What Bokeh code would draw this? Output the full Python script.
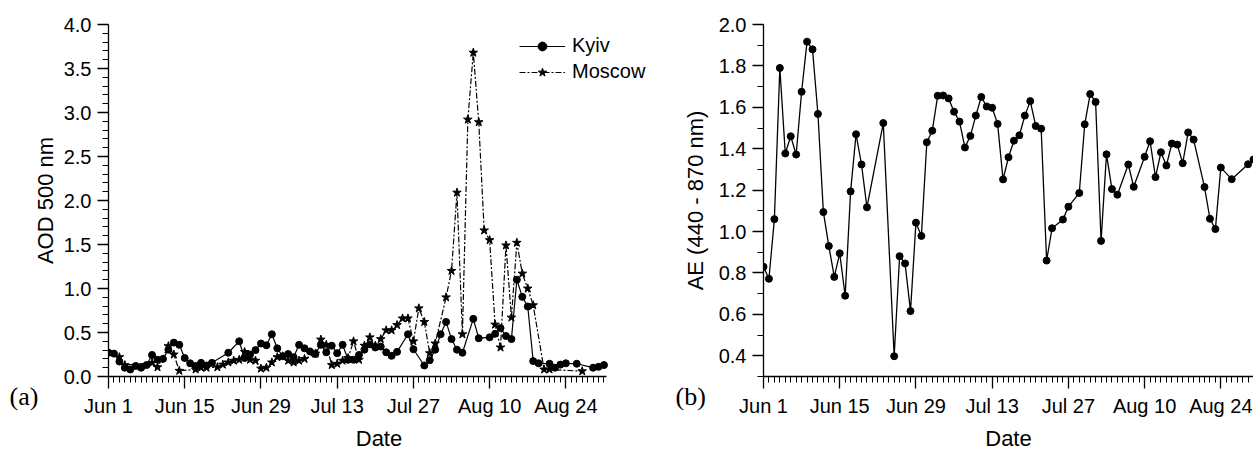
import pandas as pd
from bokeh.plotting import figure
from bokeh.layouts import row
from bokeh.models import FixedTicker, NumeralTickFormatter, Legend, LegendItem, Label, Range1d
from bokeh.embed import file_html
from bokeh.resources import INLINE

START = "2010-06-01"

# Kyiv AERONET observation dates (month-day, 2010)
kyiv_dates = [
    "06-01", "06-02", "06-03", "06-04", "06-05", "06-06", "06-07", "06-08", "06-09", "06-10",
    "06-11", "06-12", "06-13", "06-14", "06-15", "06-16", "06-17", "06-18", "06-19", "06-20",
    "06-23",
    "06-25", "06-26", "06-27", "06-28", "06-29", "06-30", "07-01", "07-02", "07-03", "07-04",
    "07-05", "07-06", "07-07", "07-08", "07-09", "07-10", "07-11", "07-12", "07-13", "07-14",
    "07-15", "07-16", "07-17", "07-18", "07-19", "07-20", "07-21", "07-22", "07-23", "07-24",
    "07-26", "07-27",
    "07-29", "07-30", "07-31", "08-01", "08-02", "08-03", "08-04", "08-05",
    "08-07", "08-08",
    "08-10", "08-11", "08-12", "08-13", "08-14", "08-15", "08-16", "08-17", "08-18", "08-19",
    "08-21", "08-22", "08-23", "08-24",
    "08-26",
    "08-29", "08-30", "08-31",
]
kyiv_aod = [
    0.27, 0.26, 0.17, 0.10, 0.08, 0.12, 0.10, 0.13, 0.245, 0.19,
    0.20, 0.305, 0.385, 0.36, 0.21, 0.15, 0.12, 0.155, 0.125, 0.155,
    0.27,
    0.40, 0.21, 0.25, 0.30, 0.375, 0.355, 0.48, 0.32, 0.23, 0.255,
    0.22, 0.36, 0.32, 0.285, 0.255, 0.36, 0.275, 0.35, 0.265, 0.36,
    0.19, 0.19, 0.245, 0.305, 0.365, 0.33, 0.34, 0.275, 0.235, 0.28,
    0.48, 0.31,
    0.125, 0.185, 0.305, 0.48, 0.62, 0.425, 0.305, 0.27,
    0.655, 0.435,
    0.445, 0.485, 0.55, 0.46, 0.425, 1.10, 0.905, 0.795, 0.175, 0.15,
    0.145, 0.10, 0.135, 0.15,
    0.145,
    0.10, 0.11, 0.13,
]

moscow_dates = [
    "06-03", "06-04", "06-09", "06-10", "06-12", "06-13", "06-14", "06-17", "06-18", "06-19",
    "06-21", "06-22", "06-23", "06-24", "06-25", "06-26", "06-27", "06-28", "06-29", "06-30",
    "07-01", "07-02", "07-03", "07-04", "07-05", "07-06", "07-07", "07-09", "07-10", "07-11",
    "07-12", "07-13", "07-14", "07-15", "07-16", "07-17", "07-18", "07-19", "07-20", "07-21",
    "07-22", "07-23", "07-24", "07-25", "07-26", "07-27", "07-28", "07-29", "07-30", "07-31",
    "08-02", "08-03", "08-04", "08-05", "08-06", "08-07", "08-08", "08-09", "08-10", "08-11",
    "08-12", "08-13", "08-14", "08-15", "08-16", "08-17", "08-18", "08-20", "08-21", "08-27",
]
moscow_aod = [
    0.22, 0.13, 0.155, 0.105, 0.345, 0.25, 0.065, 0.08, 0.10, 0.10,
    0.105, 0.135, 0.16, 0.18, 0.19, 0.28, 0.19, 0.18, 0.09, 0.10,
    0.16, 0.22, 0.23, 0.18, 0.16, 0.18, 0.20, 0.26, 0.42, 0.36,
    0.13, 0.145, 0.18, 0.21, 0.40, 0.19, 0.35, 0.445, 0.35, 0.425,
    0.525, 0.525, 0.585, 0.66, 0.66, 0.40, 0.775, 0.62, 0.265, 0.375,
    0.90, 1.20, 2.09, 0.48, 2.92, 3.68, 2.89, 1.66, 1.55, 0.59,
    0.33, 1.49, 0.67, 1.52, 1.17, 1.00, 0.81, 0.08, 0.08, 0.06,
]

# Kyiv Angstrom exponent shares the Kyiv dates (last day lies beyond the visible axis)
ae_dates = kyiv_dates[:-1]
kyiv_ae = [
    0.83, 0.772, 1.06, 1.79, 1.377, 1.46, 1.372, 1.675, 1.917, 1.88,
    1.568, 1.094, 0.93, 0.781, 0.895, 0.69, 1.194, 1.47, 1.324, 1.117,
    1.524,
    0.398, 0.881, 0.846, 0.616, 1.043, 0.979, 1.431, 1.487, 1.656, 1.657,
    1.643, 1.579, 1.531, 1.406, 1.462, 1.56, 1.65, 1.604, 1.598, 1.52,
    1.252, 1.359, 1.439, 1.465, 1.56, 1.63, 1.51, 1.497, 0.86, 1.016,
    1.058, 1.12,
    1.186, 1.518, 1.664, 1.626, 0.955, 1.373, 1.205, 1.178,
    1.324, 1.216,
    1.361, 1.436, 1.263, 1.383, 1.319, 1.425, 1.42, 1.33, 1.479, 1.444,
    1.215, 1.062, 1.012, 1.309,
    1.253,
    1.325, 1.348,
]

x_tick_days = [0, 14, 28, 42, 56, 70, 84]
x_tick_labels = ["Jun 1", "Jun 15", "Jun 29", "Jul 13", "Jul 27", "Aug 10", "Aug 24"]


def to_days(dates):
    t = pd.to_datetime(["2010-" + d for d in dates])
    return list((t - pd.Timestamp(START)).days)


kyiv_x = to_days(kyiv_dates)
moscow_x = to_days(moscow_dates)
ae_x = to_days(ae_dates)

SANS = "Liberation Sans"
SERIF = "Liberation Serif"


def style(p, ylabel, yticks, yminor, ylabel_standoff):
    p.xaxis.ticker = FixedTicker(ticks=x_tick_days, minor_ticks=list(range(0, 92)))
    p.xaxis.major_label_overrides = {d: l for d, l in zip(x_tick_days, x_tick_labels)}
    p.yaxis.ticker = FixedTicker(ticks=yticks, minor_ticks=yminor)
    p.yaxis.formatter = NumeralTickFormatter(format="0.0")
    for ax in (p.xaxis[0], p.yaxis[0]):
        ax.axis_line_color = "black"
        ax.axis_line_width = 1.3
        ax.major_tick_line_color = "black"
        ax.major_tick_line_width = 1.3
        ax.minor_tick_line_color = "black"
        ax.minor_tick_line_width = 1.0
        ax.major_tick_in = 0
        ax.minor_tick_in = 0
        ax.major_label_text_font = SANS
        ax.major_label_text_font_size = "20px"
        ax.major_label_text_color = "black"
        ax.major_label_text_line_height = 1.0
        ax.axis_label_text_font = SANS
        ax.axis_label_text_font_size = "22px"
        ax.axis_label_text_font_style = "normal"
        ax.axis_label_text_color = "black"
        ax.axis_label_text_line_height = 1.0
    p.xaxis.major_tick_out = 12
    p.xaxis.minor_tick_out = 6
    p.yaxis.major_tick_out = 11
    p.yaxis.minor_tick_out = 6
    p.xaxis.major_label_standoff = 6
    p.yaxis.major_label_standoff = 6
    p.xaxis.axis_label_standoff = 6
    p.yaxis.axis_label_standoff = ylabel_standoff
    p.xaxis.axis_label = "Date"
    p.yaxis.axis_label = ylabel
    p.xgrid.visible = False
    p.ygrid.visible = False
    p.outline_line_color = None


H = 453
WA = 649
WB = 1253 - WA
FRAME_B_LEFT = 761

# ---- panel (a) ----
# frame reaches the canvas edge so the legend text is not cut; the axis itself stops at Aug 31
xa_end = (WA - 105) / 5.475
pa = figure(width=WA, height=H, output_backend="svg", toolbar_location=None,
            x_range=Range1d(0, xa_end), y_range=Range1d(0, 4.0),
            min_border_left=105, min_border_right=0, min_border_top=23, min_border_bottom=75)
style(pa, "AOD 500 nm", [0.5 * i for i in range(9)], [round(0.1 * i, 1) for i in range(41)], 3)
pa.xaxis.bounds = (0, 91.5)

kl = pa.line(kyiv_x, kyiv_aod, line_color="black", line_width=1.2)
ks = pa.scatter(kyiv_x, kyiv_aod, marker="circle", size=7, fill_color="black", line_color="black")
ml = pa.line(moscow_x, moscow_aod, line_color="black", line_width=1.2, line_dash="6 2 2 2")
ms = pa.scatter(moscow_x, moscow_aod, marker="star", size=9, fill_color="black", line_color="black")

legend = Legend(items=[LegendItem(label="Kyiv", renderers=[kl, ks]),
                       LegendItem(label="Moscow", renderers=[ml, ms])],
                location=(411, 293), orientation="vertical",
                glyph_width=46, glyph_height=22, label_height=22, label_standoff=7,
                spacing=3, padding=0, margin=0,
                border_line_alpha=0, background_fill_alpha=0,
                label_text_font=SANS, label_text_font_size="20px", label_text_color="black")
pa.add_layout(legend)
pa.add_layout(Label(x=9, y=-20, x_units="screen", y_units="screen", text="(a)",
                    text_font=SERIF, text_font_size="26px", text_baseline="middle",
                    text_color="black"), "left")

# ---- panel (b) ----
pb = figure(width=WB, height=H, output_backend="svg", toolbar_location=None,
            x_range=Range1d(0, 90.0), y_range=Range1d(0.3, 2.0),
            min_border_left=FRAME_B_LEFT - WA, min_border_right=0, min_border_top=24, min_border_bottom=75)
style(pb, "AE (440 - 870 nm)", [round(0.4 + 0.2 * i, 1) for i in range(9)],
      [round(0.3 + 0.1 * i, 1) for i in range(18)], 8)

pb.line(ae_x, kyiv_ae, line_color="black", line_width=1.3)
pb.scatter(ae_x, kyiv_ae, marker="circle", size=7, fill_color="black", line_color="black")
pb.add_layout(Label(x=26, y=-20, x_units="screen", y_units="screen", text="(b)",
                    text_font=SERIF, text_font_size="26px", text_baseline="middle",
                    text_color="black"), "left")

layout = row(pa, pb)
open("out.html", "w").write(file_html(layout, INLINE))
